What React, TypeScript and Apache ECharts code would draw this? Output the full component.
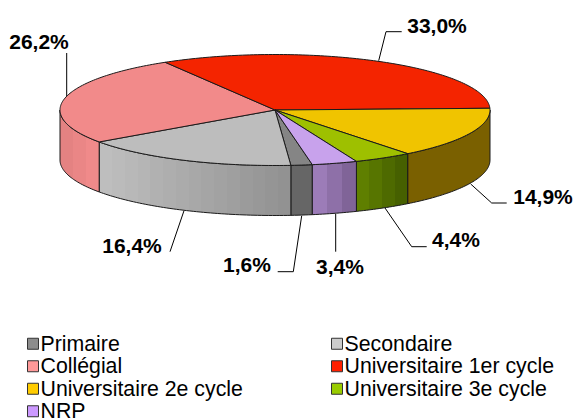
import React, { useEffect, useRef } from "react";
import * as echarts from "echarts";

const categories = ["Primaire", "Secondaire", "Collégial", "Universitaire 1er cycle", "Universitaire 2e cycle", "Universitaire 3e cycle", "NRP"];
const values = [1.6, 16.4, 26.2, 33.0, 14.9, 4.4, 3.4];
const legendColors = ["#8C8C8C", "#CCCCCC", "#FF9999", "#FF2000", "#FFCC00", "#99CC00", "#CC99FF"];
const topColors = ["#858585", "#BDBDBD", "#F28A8A", "#F42400", "#F0C400", "#9EC000", "#C8A2EC"];
const wallFrom = ["#666666", "#BEBEBE", "#E48282", "#A01800", "#7A6000", "#5F7F00", "#9C7CB8"];
const wallTo = ["#666666", "#929292", "#F08A8A", "#A01800", "#7A6000", "#466000", "#806498"];
const labelBoxes = [
  { x: 247, y: 264 }, { x: 132, y: 245 }, { x: 39, y: 41 }, { x: 437, y: 25 },
  { x: 543, y: 196 }, { x: 456, y: 239 }, { x: 340, y: 266 },
];
const leaders = [
  [[301.7, 215.7], [293.3, 271.7], [277.7, 271.7]],
  [[184, 210.7], [170, 251.7]],
  [[66.7, 97], [66.7, 53]],
  [[378.7, 60.7], [386, 31.7], [401.7, 31.7]],
  [[470.7, 184], [491.7, 203], [506.7, 203]],
  [[385, 208], [411.7, 246.7], [426.7, 246.7]],
  [[335.7, 214], [335.7, 251.7]],
];

const CX = 275, CY = 110, RX = 215, RY = 55.5, DEPTH = 50, START = -80;
const total = values.reduce((a, b) => a + b, 0);
const pt = (deg: number, dy = 0) => {
  const r = (deg * Math.PI) / 180;
  return [CX + RX * Math.cos(r), CY - RY * Math.sin(r) + dy];
};
const sliceAngles = (i: number) => {
  const before = values.slice(0, i).reduce((a, b) => a + b, 0);
  return [START - (before / total) * 360, START - ((before + values[i]) / total) * 360];
};
const arc = (a0: number, a1: number, dy = 0) => {
  const n = Math.max(1, Math.ceil(Math.abs(a1 - a0)));
  const out: number[][] = [];
  for (let k = 0; k <= n; k++) out.push(pt(a0 + ((a1 - a0) * k) / n, dy));
  return out;
};
const mix = (a: string, b: string, t: number) => {
  const p = (s: string, o: number) => parseInt(s.slice(o, o + 2), 16);
  const c = (o: number) => Math.round(p(a, o) + (p(b, o) - p(a, o)) * t);
  return `rgb(${c(1)},${c(3)},${c(5)})`;
};
const bandFill = (i: number, x0: number, x1: number) => {
  const bands = Math.max(1, Math.round((x1 - x0) / 13));
  const stops: any[] = [];
  for (let b = 0; b < bands; b++) {
    const col = mix(wallFrom[i], wallTo[i], bands > 1 ? b / (bands - 1) : 0);
    stops.push({ offset: b / bands, color: col }, { offset: (b + 1) / bands, color: col });
  }
  return new echarts.graphic.LinearGradient(x0, 0, x1, 0, stops, true);
};
// The wall is visible only on the front half of the ellipse (angles -180..0, equivalently -540..-360).
const wallRange = (a0: number, a1: number): number[] | null => {
  for (const [hi, lo] of [[0, -180], [-360, -540]]) {
    const h = Math.min(a0, hi), l = Math.max(a1, lo);
    if (h > l) return [h, l];
  }
  return null;
};

const EDGE = "#1a1a1a";
const makeRender = (i: number) => () => {
  const [a0, a1] = sliceAngles(i);
  const children: any[] = [];
  const w = wallRange(a0, a1);
  if (w) {
    const upper = arc(w[0], w[1]);
    const lower = arc(w[1], w[0], DEPTH);
    const xs = upper.map((p) => p[0]);
    children.push({
      type: "polygon",
      shape: { points: [...upper, ...lower] },
      style: { fill: bandFill(i, Math.min(...xs), Math.max(...xs)), stroke: EDGE, lineWidth: 1 },
    });
  }
  children.push({
    type: "polygon",
    shape: { points: [[CX, CY], ...arc(a0, a1)] },
    style: { fill: topColors[i], stroke: EDGE, lineWidth: 1 },
  });
  return { type: "group", children };
};

const label = (v: number) => v.toFixed(1).replace(".", ",") + "%";
const font = "Liberation Sans";

export default function App() {
  const ref = useRef<HTMLDivElement>(null);
  useEffect(() => {
    const chart = echarts.init(ref.current!, undefined, { renderer: "svg" });
    const legendCommon = {
      orient: "vertical" as const,
      top: 332.5,
      height: 110,
      icon: "rect",
      itemWidth: 11,
      itemHeight: 11,
      itemGap: 0,
      selectedMode: false,
      padding: 0,
      itemStyle: { borderColor: "#333", borderWidth: 1 },
      textStyle: { fontFamily: font, fontSize: 21.3, color: "#000", padding: [8, 0, 0, -3], lineHeight: 14.5 },
    };
    const legendItem = (i: number) => ({ name: categories[i], itemStyle: { color: legendColors[i] } });
    chart.setOption({
      animation: false,
      backgroundColor: "#fff",
      legend: [
        { ...legendCommon, left: 27, data: [0, 2, 4, 6].map(legendItem) },
        { ...legendCommon, left: 331, data: [1, 3, 5].map(legendItem) },
      ],
      series: categories.map((name, i) => ({
        type: "custom",
        name,
        coordinateSystem: "none",
        itemStyle: { color: legendColors[i] },
        data: [{ name, value: values[i] }],
        renderItem: makeRender(i),
      })),
      graphic: [
        ...leaders.map((points) => ({
          type: "polyline",
          shape: { points },
          style: { stroke: "#000", lineWidth: 1, fill: "none" },
        })),
        ...values.map((v, i) => ({
          type: "text",
          x: labelBoxes[i].x,
          y: labelBoxes[i].y,
          style: {
            text: label(v),
            font: `bold 21px "${font}"`,
            fill: "#000",
            textAlign: "center",
            textVerticalAlign: "middle",
          },
        })),
      ],
    });
    return () => chart.dispose();
  }, []);
  return <div ref={ref} style={{ position: "absolute", left: 0, top: 0, width: 576, height: 419 }} />;
}
